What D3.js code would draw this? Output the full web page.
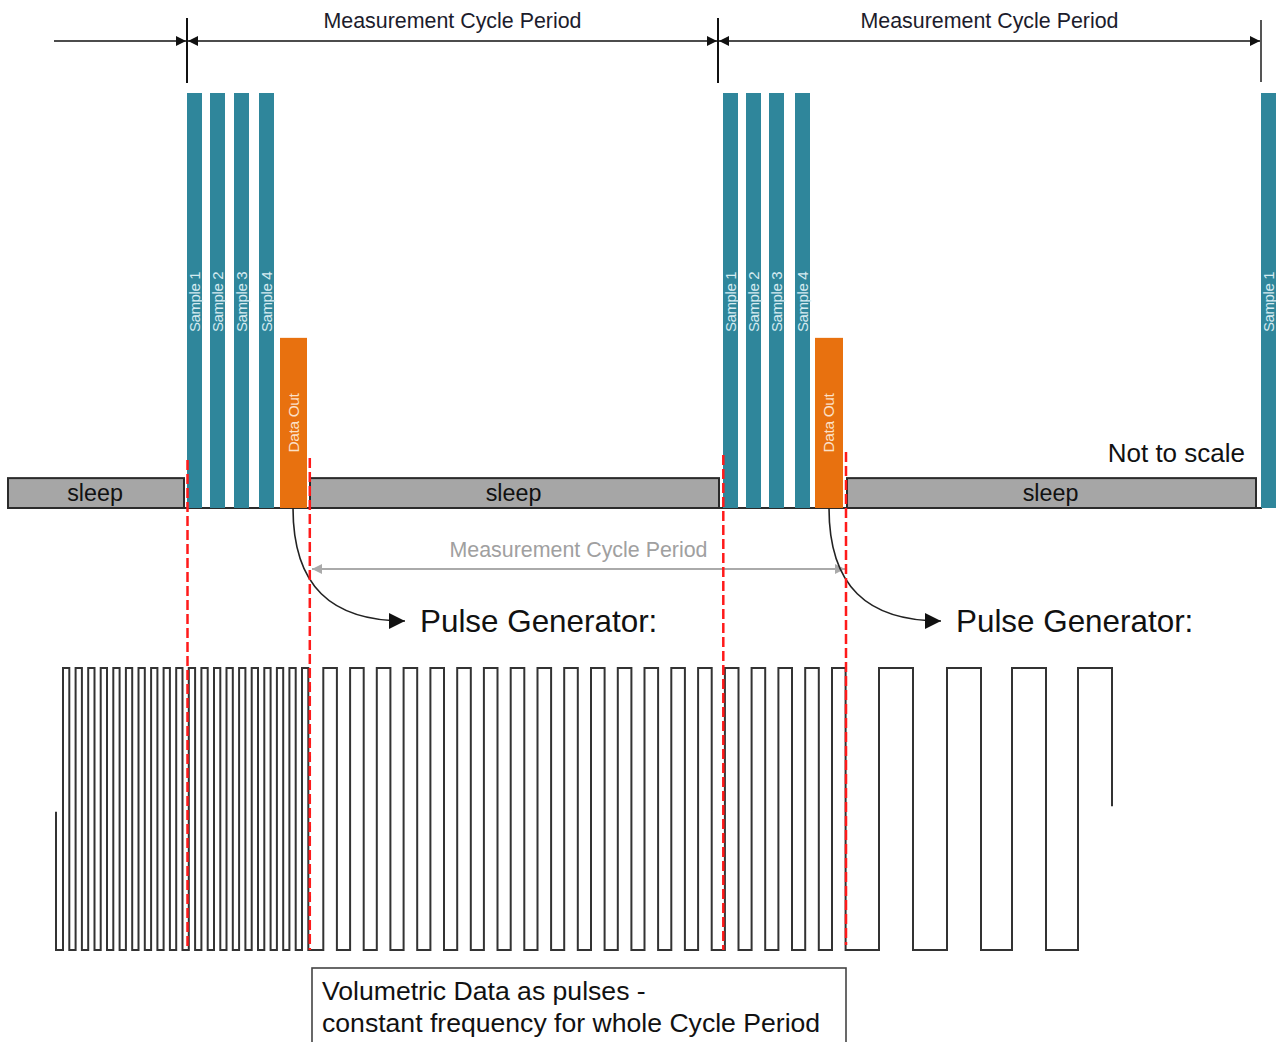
<!DOCTYPE html>
<html>
<head>
<meta charset="utf-8">
<script src="https://cdn.jsdelivr.net/npm/d3@7/dist/d3.min.js"></script>
<style>
  html, body { margin: 0; padding: 0; background: #fff; }
  svg { display: block; font-family: "Liberation Sans", Arial, sans-serif; }
</style>
</head>
<body>
<svg id="chart" width="1276" height="1042"></svg>
<script>
// ---------- data (time in diagram units, levels 0..1) ----------
const cycleMarks = [187, 718, 1261];
const leadArrowStart = 54;
const topLabel = "Measurement Cycle Period";

const sampleLabels = ["Sample 1", "Sample 2", "Sample 3", "Sample 4"];
const sampleStartsCycle1 = [187, 210, 234, 259];
const sampleStartsCycle2 = [723, 746, 769, 795];
const sampleStartsCycle3 = [1261];
const sampleWidth = 15;
const sampleLevel = 1.0;

const dataOutLabel = "Data Out";
const dataOutSpans = [[280, 307], [815, 843]];
const dataOutLevel = 0.41;

const sleepLabel = "sleep";
const sleepSpans = [[8, 184], [310, 719], [847, 1256]];
const sleepLevel = 0.072;

const redMarks = [
  {x: 187.5, top: 460, bottom: 950},
  {x: 309.8, top: 458, bottom: 950},
  {x: 723.3, top: 455, bottom: 950},
  {x: 846, top: 452, bottom: 945}
];

const pulseGenLabel = "Pulse Generator:";
const pulseGenSources = [293, 829];

const innerPeriodSpan = [312, 845];

// pulse train: [rise, fall] pairs
const densePulses = [
  [63, 69.3], [75.6, 81.9], [88.2, 94.5], [100.7, 107], [113.3, 119.6],
  [125.9, 132.2], [138.5, 144.8], [151.1, 157.4], [163.6, 169.9], [176.2, 182.5],
  [188.8, 195.1], [201.4, 207.7], [214, 220.3], [226.5, 232.8], [239.1, 245.4],
  [251.7, 258], [264.3, 270.6], [276.9, 283.2], [289.4, 295.7], [302, 308.3]
];
const mediumPulses = [
  [323.3, 336.9], [350.1, 363.7], [376.8, 390.4], [403.6, 417.2], [430.4, 444],
  [457.2, 470.8], [483.9, 497.5], [510.7, 524.3], [537.5, 551.1], [564.2, 577.8],
  [591, 604.6], [617.8, 631.4], [644.5, 658.1], [671.3, 684.9], [698.1, 711.7],
  [724.9, 738.5], [751.6, 765.2], [778.4, 792], [805.2, 818.8], [832, 845.6]
];
const slowPulses = [[879, 913], [947, 981], [1012, 1046], [1078, 1112]];
const pulseStart = {t: 56, level: 0.49};
const pulseEndLevel = 0.51;

const boxLines = ["Volumetric Data as pulses -", "constant frequency for whole Cycle Period"];
const notToScale = "Not to scale";

// ---------- scales ----------
const svg = d3.select("#chart");
const x = d3.scaleLinear().domain([0, 1276]).range([0, 1276]);
const yBar = d3.scaleLinear().domain([0, 1]).range([508, 93]);
const yPulse = d3.scaleLinear().domain([0, 1]).range([950, 668]);

const TEAL = "#2f869b", ORANGE = "#e8710f";

// ---------- defs: arrowheads ----------
const defs = svg.append("defs");
function marker(id, color, w, h) {
  defs.append("marker").attr("id", id)
    .attr("viewBox", "0 0 10 10").attr("refX", 10).attr("refY", 5)
    .attr("markerUnits", "userSpaceOnUse")
    .attr("markerWidth", w).attr("markerHeight", h)
    .attr("orient", "auto-start-reverse")
    .append("path").attr("d", "M0,0 L10,5 L0,10 Z").attr("fill", color);
}
marker("arrBlack", "#111", 14, 10);
marker("arrGray", "#aaa", 14, 10);
marker("arrBig", "#111", 18, 16);

// ---------- top period arrows ----------
const yTop = 41;
svg.append("line").attr("x1", x(leadArrowStart)).attr("x2", x(cycleMarks[0]) - 1)
  .attr("y1", yTop).attr("y2", yTop).attr("stroke", "#111").attr("stroke-width", 1.6)
  .attr("marker-end", "url(#arrBlack)");
d3.pairs(cycleMarks).forEach(([a, b]) => {
  svg.append("line").attr("x1", x(a) + 1).attr("x2", x(b) - 1)
    .attr("y1", yTop).attr("y2", yTop).attr("stroke", "#111").attr("stroke-width", 1.6)
    .attr("marker-start", "url(#arrBlack)").attr("marker-end", "url(#arrBlack)");
  svg.append("text").attr("x", x((a + b) / 2)).attr("y", 28)
    .attr("text-anchor", "middle").attr("font-size", 21.4).attr("fill", "#1c1c2c")
    .text(topLabel);
});
cycleMarks.forEach((m, i) => {
  svg.append("line").attr("x1", x(m)).attr("x2", x(m))
    .attr("y1", i === 2 ? 20 : 18).attr("y2", i === 2 ? 82 : 83)
    .attr("stroke", i === 2 ? "#555" : "#111").attr("stroke-width", 2);
});

// ---------- sleep bars ----------
const sleepG = svg.append("g");
sleepSpans.forEach(([a, b]) => {
  sleepG.append("rect").attr("x", x(a)).attr("y", yBar(sleepLevel))
    .attr("width", x(b) - x(a)).attr("height", yBar(0) - yBar(sleepLevel))
    .attr("fill", "#a6a6a6").attr("stroke", "#2b2b2b").attr("stroke-width", 2);
  sleepG.append("text").attr("x", x((a + b) / 2) - 1).attr("y", yBar(sleepLevel / 2) + 8)
    .attr("text-anchor", "middle").attr("font-size", 23.3).attr("fill", "#111").text(sleepLabel);
});
svg.append("line").attr("x1", x(8)).attr("x2", x(1262)).attr("y1", yBar(0)).attr("y2", yBar(0))
  .attr("stroke", "#2b2b2b").attr("stroke-width", 2);

// ---------- sample bars ----------
function sampleBars(starts) {
  starts.forEach((s, i) => {
    const w = Math.min(x(s + sampleWidth), 1276) - x(s);
    svg.append("rect").attr("x", x(s)).attr("y", yBar(sampleLevel))
      .attr("width", w).attr("height", yBar(0) - yBar(sampleLevel)).attr("fill", TEAL);
    const cx = x(s) + w / 2 + 5, cy = 302;
    svg.append("text").attr("transform", `translate(${cx},${cy}) rotate(-90)`)
      .attr("text-anchor", "middle").attr("font-size", 15).attr("fill", "#d6ebf1")
      .attr("letter-spacing", -0.4).text(sampleLabels[i]);
  });
}
sampleBars(sampleStartsCycle1);
sampleBars(sampleStartsCycle2);
sampleBars(sampleStartsCycle3);

dataOutSpans.forEach(([a, b]) => {
  svg.append("rect").attr("x", x(a)).attr("y", yBar(dataOutLevel))
    .attr("width", x(b) - x(a)).attr("height", yBar(0) - yBar(dataOutLevel)).attr("fill", ORANGE);
  const cx = x((a + b) / 2) + 5, cy = 423;
  svg.append("text").attr("transform", `translate(${cx},${cy}) rotate(-90)`)
    .attr("text-anchor", "middle").attr("font-size", 15.5).attr("fill", "#fbe0c8")
    .attr("letter-spacing", -0.4).text(dataOutLabel);
});

svg.append("text").attr("x", 1245).attr("y", 462).attr("text-anchor", "end")
  .attr("font-size", 26).attr("fill", "#111").text(notToScale);

// ---------- inner gray period arrow ----------
svg.append("line").attr("x1", x(innerPeriodSpan[0])).attr("x2", x(innerPeriodSpan[1]))
  .attr("y1", 569).attr("y2", 569).attr("stroke", "#aaa").attr("stroke-width", 2)
  .attr("marker-start", "url(#arrGray)").attr("marker-end", "url(#arrGray)");
svg.append("text").attr("x", x(d3.mean(innerPeriodSpan))).attr("y", 557)
  .attr("text-anchor", "middle").attr("font-size", 21.4).attr("fill", "#a0a0a0")
  .text(topLabel);

// ---------- curved arrows to pulse generator ----------
pulseGenSources.forEach(s => {
  const sx = x(s), sy = yBar(0);
  svg.append("path")
    .attr("d", `M${sx},${sy} C${sx},${sy + 78} ${sx + 38},${621} ${sx + 112},${621}`)
    .attr("fill", "none").attr("stroke", "#222").attr("stroke-width", 1.6)
    .attr("marker-end", "url(#arrBig)");
  svg.append("text").attr("x", sx + 127).attr("y", 632)
    .attr("font-size", 31.4).attr("fill", "#111").text(pulseGenLabel);
});

// ---------- pulse train ----------
const allPulses = densePulses.concat(mediumPulses, slowPulses);
const pts = [[pulseStart.t, pulseStart.level], [pulseStart.t, 0]];
allPulses.forEach(([r, f], i) => {
  pts.push([r, 0], [r, 1], [f, 1]);
  pts.push([f, i === allPulses.length - 1 ? pulseEndLevel : 0]);
});
const line = d3.line().x(d => x(d[0])).y(d => yPulse(d[1]));
svg.append("path").attr("d", line(pts)).attr("fill", "none")
  .attr("stroke", "#333").attr("stroke-width", 2).attr("stroke-linejoin", "miter");

// ---------- red dashed markers ----------
redMarks.forEach(m => {
  svg.append("line").attr("x1", x(m.x)).attr("x2", x(m.x)).attr("y1", m.top).attr("y2", m.bottom)
    .attr("stroke", "#ff1a1a").attr("stroke-width", 2.5).attr("stroke-dasharray", "10,4");
});

// ---------- text box ----------
svg.append("rect").attr("x", 312).attr("y", 968).attr("width", 534).attr("height", 100)
  .attr("fill", "#fff").attr("stroke", "#444").attr("stroke-width", 1.6);
boxLines.forEach((t, i) => {
  svg.append("text").attr("x", 322).attr("y", 1000 + i * 32)
    .attr("font-size", 26.6).attr("fill", "#111").text(t);
});
</script>
</body>
</html>
